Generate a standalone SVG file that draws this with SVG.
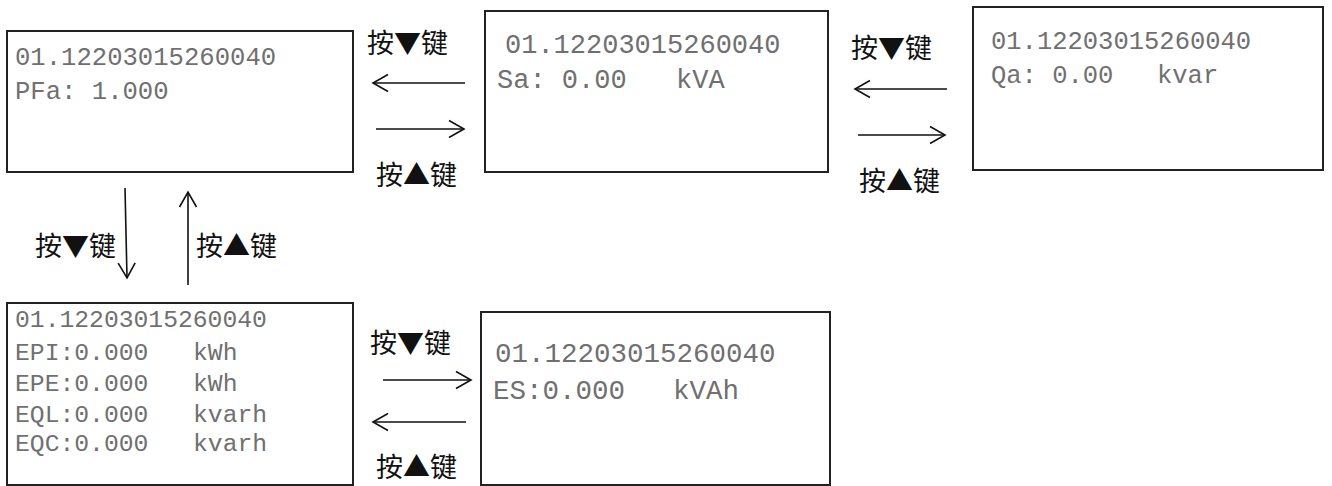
<svg xmlns="http://www.w3.org/2000/svg" width="1332" height="486" viewBox="0 0 1332 486">
<style>
.box{fill:#fff;stroke:#222;stroke-width:2}
.lcd{font-family:"Liberation Mono","DejaVu Sans Mono",monospace;fill:#707070}
.lbl{font-family:"Noto Sans CJK SC","Noto Sans CJK JP",sans-serif;font-size:27px;fill:#111}
.ar{stroke:#111;stroke-width:1.6;fill:none;marker-end:url(#arr)}
</style>
<defs>
<marker id="arr" markerUnits="userSpaceOnUse" viewBox="0 0 18 20" refX="16" refY="10" markerWidth="18" markerHeight="20" orient="auto">
<path d="M1,1.5 L16,10 L1,18.5" fill="none" stroke="#111" stroke-width="1.6"/>
</marker>
</defs>
<rect width="1332" height="486" fill="#fff"/>
<g id="node-pfa">
<rect class="box" x="7" y="31" width="346" height="141"/>
<text class="lcd" font-size="25.6" x="15" y="65">01.12203015260040</text>
<text class="lcd" font-size="25.6" x="15" y="99">PFa: 1.000</text>
</g>
<g id="node-sa">
<rect class="box" x="485" y="11" width="343" height="161"/>
<text class="lcd" font-size="27" x="505" y="53">01.12203015260040</text>
<text class="lcd" font-size="27" y="88"><tspan x="497">Sa: 0.00</tspan><tspan x="676">kVA</tspan></text>
</g>
<g id="node-qa">
<rect class="box" x="973" y="7" width="350" height="163"/>
<text class="lcd" font-size="25.5" x="991" y="49">01.12203015260040</text>
<text class="lcd" font-size="25.5" y="83"><tspan x="991">Qa: 0.00</tspan><tspan x="1157">kvar</tspan></text>
</g>
<g id="node-energy">
<rect class="box" x="7" y="303" width="346" height="182"/>
<text class="lcd" font-size="24.7" x="15" y="327">01.12203015260040</text>
<text class="lcd" font-size="24.7" y="360"><tspan x="15">EPI:0.000</tspan><tspan x="193">kWh</tspan></text>
<text class="lcd" font-size="24.7" y="391"><tspan x="15">EPE:0.000</tspan><tspan x="193">kWh</tspan></text>
<text class="lcd" font-size="24.7" y="422"><tspan x="15">EQL:0.000</tspan><tspan x="193">kvarh</tspan></text>
<text class="lcd" font-size="24.7" y="451"><tspan x="15">EQC:0.000</tspan><tspan x="193">kvarh</tspan></text>
</g>
<g id="node-es">
<rect class="box" x="481" y="312" width="349" height="173"/>
<text class="lcd" font-size="27.5" x="495" y="362">01.12203015260040</text>
<text class="lcd" font-size="27.5" y="399"><tspan x="493">ES:0.000</tspan><tspan x="673">kVAh</tspan></text>
</g>
<g id="connectors">
<line class="ar" x1="465" y1="83" x2="373" y2="83"/>
<line class="ar" x1="376" y1="129" x2="464" y2="129"/>
<line class="ar" x1="947" y1="89" x2="855" y2="89"/>
<line class="ar" x1="858" y1="135" x2="945" y2="135"/>
<line class="ar" x1="125" y1="188" x2="127" y2="278"/>
<line class="ar" x1="188" y1="285" x2="188" y2="192"/>
<line class="ar" x1="383" y1="380" x2="471" y2="380"/>
<line class="ar" x1="466" y1="422" x2="373" y2="422"/>
</g>
<g id="labels">
<text class="lbl" x="367" y="53">按▼键</text>
<text class="lbl" x="376" y="185">按▲键</text>
<text class="lbl" x="851" y="58">按▼键</text>
<text class="lbl" x="859" y="191">按▲键</text>
<text class="lbl" x="35" y="256">按▼键</text>
<text class="lbl" x="196" y="256">按▲键</text>
<text class="lbl" x="370" y="353">按▼键</text>
<text class="lbl" x="376" y="477">按▲键</text>
</g>
</svg>
